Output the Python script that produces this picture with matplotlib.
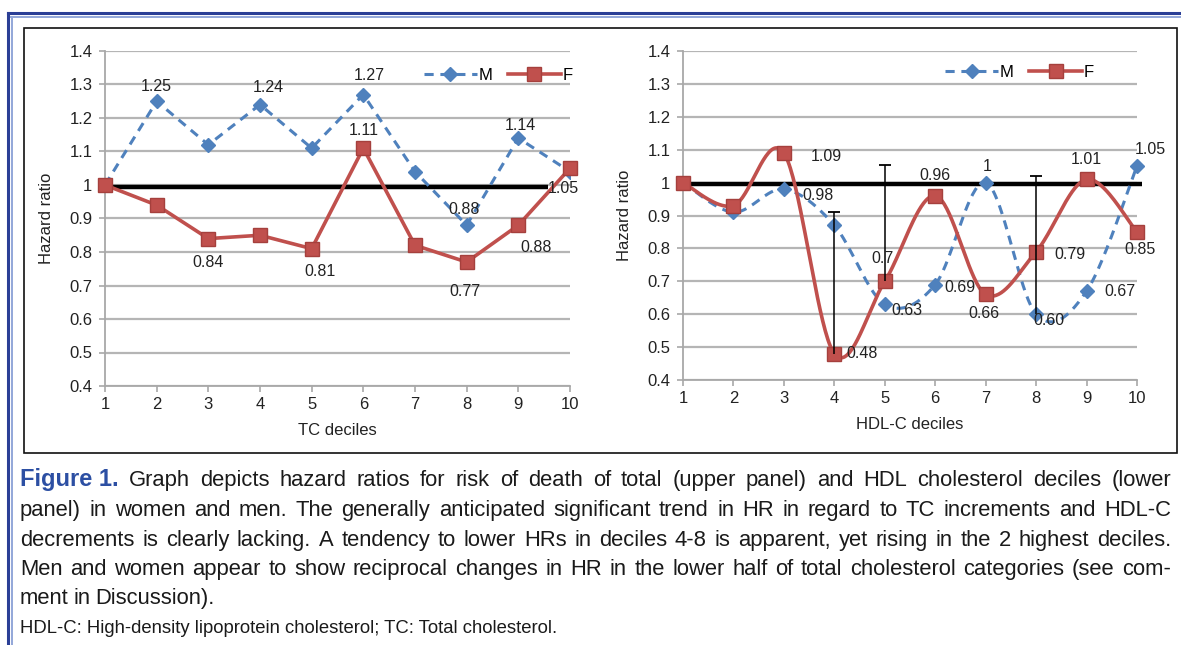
import numpy as np
import matplotlib.pyplot as plt
from matplotlib.lines import Line2D
from matplotlib.patches import Rectangle

# hazard ratios per decile
deciles = np.arange(1, 11)
tc_m = [1.00, 1.25, 1.12, 1.24, 1.11, 1.27, 1.04, 0.88, 1.14, 1.04]
tc_f = [1.00, 0.94, 0.84, 0.85, 0.81, 1.11, 0.82, 0.77, 0.88, 1.05]
hdl_m = [1.00, 0.91, 0.98, 0.87, 0.63, 0.69, 1.00, 0.60, 0.67, 1.05]
hdl_f = [1.00, 0.93, 1.09, 0.48, 0.70, 0.96, 0.66, 0.79, 1.01, 0.85]

# value labels (None = no label)
tc_m_lab = [None, "1.25", None, "1.24", None, "1.27", None, "0.88", "1.14", None]
tc_f_lab = [None, None, "0.84", None, "0.81", "1.11", None, "0.77", "0.88", "1.05"]
hdl_m_lab = [None, None, "0.98", None, "0.63", "0.69", "1", "0.60", "0.67", "1.05"]
hdl_f_lab = [None, None, "1.09", "0.48", "0.7", "0.96", "0.66", "0.79", "1.01", "0.85"]

# error bars on the HDL-C panel
err_x = [4, 5, 8]
err_lo = [0.48, 0.70, 0.60]
err_hi = [0.91, 1.055, 1.02]

# reference line at HR = 1
ref_y = 0.995
tc_ref_span = [1.0, 9.58]
hdl_ref_span = [1.15, 10.1]

yticks = [0.4, 0.5, 0.6, 0.7, 0.8, 0.9, 1.0, 1.1, 1.2, 1.3, 1.4]
ytick_labels = ["0.4", "0.5", "0.6", "0.7", "0.8", "0.9", "1", "1.1", "1.2", "1.3", "1.4"]

caption_lines = [
    "Graph depicts hazard ratios for risk of death of total (upper panel) and HDL cholesterol deciles (lower",
    "panel) in women and men. The generally anticipated significant trend in HR in regard to TC increments and HDL-C",
    "decrements is clearly lacking. A tendency to lower HRs in deciles 4-8 is apparent, yet rising in the 2 highest deciles.",
    "Men and women appear to show reciprocal changes in HR in the lower half of total cholesterol categories (see com-",
    "ment in Discussion).",
]
footnote = "HDL-C: High-density lipoprotein cholesterol; TC: Total cholesterol."

BLUE = "#4f81bd"
RED = "#c0504d"
W, H = 1181, 645

plt.rcParams["font.family"] = ["Liberation Sans", "DejaVu Sans"]


def smooth(x, y, n=40):
    # Excel-style smoothed line (Catmull-Rom as cubic Bezier)
    pts = np.column_stack([x, y]).astype(float)
    P = np.vstack([pts[0], pts, pts[-1]])
    segs = []
    t = np.linspace(0, 1, n)[:, None]
    for i in range(len(pts) - 1):
        p0, p1, p2, p3 = P[i], P[i + 1], P[i + 2], P[i + 3]
        c1 = p1 + (p2 - p0) / 6
        c2 = p2 - (p3 - p1) / 6
        segs.append((1 - t) ** 3 * p1 + 3 * (1 - t) ** 2 * t * c1
                    + 3 * (1 - t) * t ** 2 * c2 + t ** 3 * p2)
    s = np.vstack(segs)
    return s[:, 0], s[:, 1]


def style_axes(ax, xlabel):
    ax.set_xlim(1, 10)
    ax.set_ylim(0.4, 1.4)
    ax.set_xticks(deciles)
    ax.set_yticks(yticks)
    ax.set_yticklabels(ytick_labels)
    ax.yaxis.grid(True, color="#b5b5b5", lw=1.6)
    ax.set_axisbelow(True)
    for s in ["top", "right"]:
        ax.spines[s].set_visible(False)
    for s in ["left", "bottom"]:
        ax.spines[s].set_color("#a8a8a8")
        ax.spines[s].set_linewidth(1.3)
    ax.tick_params(axis="both", colors="#a8a8a8", labelcolor="#222222",
                   labelsize=12, length=4, width=1.2, direction="out")
    ax.tick_params(axis="x", pad=4)
    ax.tick_params(axis="y", pad=5)
    ax.set_xlabel(xlabel, fontsize=12, color="#222222", labelpad=8)
    ax.set_ylabel("Hazard ratio", fontsize=12, color="#222222", labelpad=11)


def add_labels(ax, ys, labels, offsets):
    for x, y, lab, off in zip(deciles, ys, labels, offsets):
        if lab is None:
            continue
        ax.annotate(lab, (x, y), xytext=off, textcoords="offset pixels",
                    ha="center", va="center", fontsize=11.5, color="#222222",
                    zorder=6)


def legend(ax, anchor):
    h_m = Line2D([], [], color=BLUE, ls=(0, (3, 2.2)), lw=2.2, marker="D",
                 ms=7, mfc=BLUE, mec=BLUE)
    h_f = Line2D([], [], color=RED, lw=2.6, marker="s", ms=10, mfc=RED,
                 mec="#a5403d")
    ax.legend([h_m, h_f], ["M", "F"], ncol=2, frameon=False, loc="center right",
              bbox_to_anchor=anchor, fontsize=12, handlelength=3.2,
              handletextpad=0.1, columnspacing=0.9, borderaxespad=0)


fig = plt.figure(figsize=(W / 100, H / 100), dpi=100)

# frames
fig.patches.append(Rectangle((24 / W, 1 - 453 / H), (1177 - 24) / W, (453 - 28) / H,
                             transform=fig.transFigure, fill=False,
                             ec="#111111", lw=1.2))
fig.add_artist(Line2D([8 / W, 1], [1 - 13 / H] * 2, transform=fig.transFigure,
                      color="#2b3f96", lw=2.2))
fig.add_artist(Line2D([11 / W, 1], [1 - 16.5 / H] * 2, transform=fig.transFigure,
                      color="#93a7d8", lw=1.4))
fig.add_artist(Line2D([8 / W] * 2, [0, 1 - 13 / H], transform=fig.transFigure,
                      color="#2b3f96", lw=2.2))
fig.add_artist(Line2D([11.5 / W] * 2, [0, 1 - 16.5 / H], transform=fig.transFigure,
                      color="#93a7d8", lw=1.4))

# left panel: TC deciles
ax1 = fig.add_axes([105 / W, 1 - 386 / H, 465 / W, 335 / H])
style_axes(ax1, "TC deciles")
ax1.plot(tc_ref_span, [ref_y] * 2, color="black", lw=3.2, zorder=3,
         solid_capstyle="butt")
ax1.plot(deciles, tc_m, color=BLUE, ls=(0, (3, 2.2)), lw=2.2, marker="D",
         ms=7, mfc=BLUE, mec=BLUE, zorder=4)
ax1.plot(deciles, tc_f, color=RED, lw=2.6, marker="s", ms=10, mfc=RED,
         mec="#a5403d", zorder=5, clip_on=False)
add_labels(ax1, tc_m, tc_m_lab,
           [(0, 0), (0, 15), (0, 0), (8, 17), (0, 0), (6, 19), (0, 0),
            (-3, 16), (2, 13), (0, 0)])
add_labels(ax1, tc_f, tc_f_lab,
           [(0, 0), (0, 0), (0, -24), (0, 0), (8, -23), (0, 18), (0, 0),
            (-2, -29), (18, -22), (-7, -20)])
legend(ax1, (1.02, 0.928))

# right panel: HDL-C deciles
ax2 = fig.add_axes([683 / W, 1 - 380 / H, 454 / W, 329 / H])
style_axes(ax2, "HDL-C deciles")
ax2.plot(hdl_ref_span, [ref_y] * 2, color="black", lw=3.2, zorder=3,
         solid_capstyle="butt", clip_on=False)
mx, my = smooth(deciles, hdl_m)
ax2.plot(mx, my, color=BLUE, ls=(0, (3, 2.2)), lw=2.2, zorder=4)
ax2.plot(deciles, hdl_m, ls="none", marker="D", ms=7, mfc=BLUE, mec=BLUE,
         zorder=4, clip_on=False)
fx, fy = smooth(deciles, hdl_f)
ax2.plot(fx, fy, color=RED, lw=2.6, zorder=5)
ax2.plot(deciles, hdl_f, ls="none", marker="s", ms=10, mfc=RED,
         mec="#a5403d", zorder=5, clip_on=False)
ax2.vlines(err_x, err_lo, err_hi, color="black", lw=1.1, zorder=6)
ax2.plot(err_x, err_hi, ls="none", marker="_", ms=9, mew=1.3, color="black",
         zorder=6)
add_labels(ax2, hdl_m, hdl_m_lab,
           [(0, 0), (0, 0), (34, -6), (0, 0), (22, -6), (25, -3), (2, 16),
            (13, -6), (33, 0), (13, 17)])
add_labels(ax2, hdl_f, hdl_f_lab,
           [(0, 0), (0, 0), (42, -4), (28, 0), (-2, 23), (0, 20), (-2, -19),
            (34, -3), (0, 20), (3, -18)])
legend(ax2, (0.92, 0.936))

# caption, justified line by line
renderer = fig.canvas.get_renderer()
cap_font = ["Liberation Sans", "DejaVu Sans"]
x_left, x_right = 20, 1171
baselines = [486, 516, 546, 575, 604]
for i, (line, base) in enumerate(zip(caption_lines, baselines)):
    words = [(w, dict(fontsize=15.8, family=cap_font, color="#1a1a1a"))
             for w in line.split(" ")]
    if i == 0:
        words = [("Figure 1.", dict(fontsize=17, family=cap_font,
                                    weight="bold", color="#2c4fa3"))] + words
    texts = []
    widths = []
    for w, props in words:
        t = fig.text(0, 1 - base / H, w, va="baseline", ha="left", **props)
        texts.append(t)
        widths.append(t.get_window_extent(renderer).width)
    justify = i < len(caption_lines) - 1
    gap = (x_right - x_left - sum(widths)) / (len(words) - 1) if justify else 4.8
    x = x_left
    for t, wdt in zip(texts, widths):
        t.set_x(x / W)
        x += wdt + gap

fig.text(20 / W, 1 - 633 / H, footnote, fontsize=13.3, family=cap_font,
         color="#1a1a1a", va="baseline", ha="left")

fig.savefig("out.png", dpi=100)
